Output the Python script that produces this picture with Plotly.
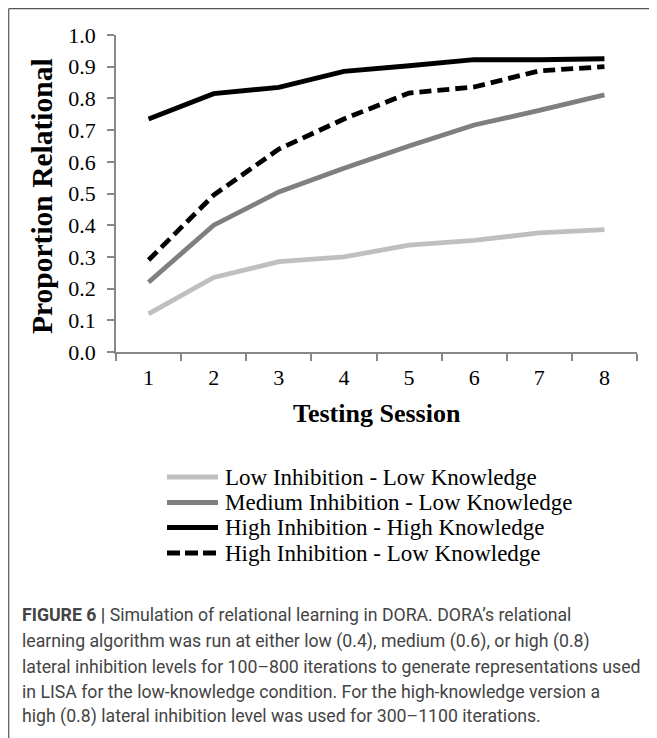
import plotly.graph_objects as go

sessions = ["1", "2", "3", "4", "5", "6", "7", "8"]
low_low = [0.12, 0.235, 0.285, 0.30, 0.337, 0.352, 0.376, 0.386]
med_low = [0.22, 0.40, 0.505, 0.58, 0.65, 0.716, 0.762, 0.811]
high_high = [0.735, 0.815, 0.835, 0.885, 0.903, 0.922, 0.922, 0.925]
high_low = [0.29, 0.495, 0.64, 0.735, 0.817, 0.836, 0.887, 0.90]
series_names = ["Low Inhibition - Low Knowledge", "Medium Inhibition - Low Knowledge",
                "High Inhibition - High Knowledge", "High Inhibition - Low Knowledge"]
y_ticks = [0.0, 0.1, 0.2, 0.3, 0.4, 0.5, 0.6, 0.7, 0.8, 0.9, 1.0]
caption_lines = [
    "<b>FIGURE 6 |</b> Simulation of relational learning in DORA. DORA\u2019s relational",
    "learning algorithm was run at either low (0.4), medium (0.6), or high (0.8)",
    "lateral inhibition levels for 100\u2013800 iterations to generate representations used",
    "in LISA for the low-knowledge condition. For the high-knowledge version a",
    "high (0.8) lateral inhibition level was used for 300\u20131100 iterations.",
]

W, H = 657, 738
OFF = 8  # page body margin offset
L, R, T, B = 116 - OFF, 637 - OFF, 35 - OFF, 352 - OFF
SERIF = "Liberation Serif, Times New Roman, serif"
SANS = "Roboto, Arial, sans-serif"

def px(x):
    return (x - OFF - L) / (R - L)

def py(y):
    return (B - (y - OFF)) / (B - T)

styles = [
    dict(color="#bfbfbf", width=4.8, dash="solid"),
    dict(color="#7f7f7f", width=4.8, dash="solid"),
    dict(color="#000000", width=4.8, dash="solid"),
    dict(color="#000000", width=4.8, dash="12px,6px"),
]
data = [low_low, med_low, high_high, high_low]

fig = go.Figure()
for name, vals, st in zip(series_names, data, styles):
    fig.add_trace(go.Scatter(x=sessions, y=vals, mode="lines", name=name,
                             line=st, showlegend=False))

axis_col = "#888888"
fig.update_layout(
    width=W, height=H,
    margin=dict(l=L, r=W - R, t=T, b=H - B, autoexpand=False),
    paper_bgcolor="white", plot_bgcolor="white",
    xaxis=dict(type="category", range=[-0.5, 7.5], showgrid=False, showline=True,
               linecolor=axis_col, linewidth=1.5, ticks="outside", ticklen=7,
               tickcolor=axis_col, tickwidth=1.5, tickson="boundaries", zeroline=False,
               automargin=False, ticklabelstandoff=5,
               tickfont=dict(family=SERIF, size=22, color="#000")),
    yaxis=dict(range=[0, 1.0], tickvals=y_ticks, tickformat=".1f", showgrid=False,
               showline=True, linecolor=axis_col, linewidth=1.5, ticks="outside",
               ticklen=7, tickcolor=axis_col, tickwidth=1.5, zeroline=False,
               automargin=False, ticklabelstandoff=7,
               tickfont=dict(family=SERIF, size=22, color="#000")),
)

ann = []
ann.append(dict(x=px(42), y=py(196), xref="paper", yref="paper", text="<b>Proportion Relational</b>",
                textangle=-90, showarrow=False, font=dict(family=SERIF, size=29.5, color="#000"),
                xanchor="center", yanchor="middle"))
ann.append(dict(x=px(377), y=py(413), xref="paper", yref="paper", text="<b>Testing Session</b>",
                showarrow=False, font=dict(family=SERIF, size=26, color="#000"),
                xanchor="center", yanchor="middle"))

leg_y = [477, 502.5, 527.5, 553]
shapes = []
for name, st, yy in zip(series_names, styles, leg_y):
    shapes.append(dict(type="line", xref="paper", yref="paper", x0=px(167), x1=px(218),
                       y0=py(yy), y1=py(yy),
                       line=dict(color=st["color"], width=st["width"],
                                 dash="13px,5px" if st["dash"] != "solid" else "solid")))
    ann.append(dict(x=px(223), y=py(yy), xref="paper", yref="paper", text=name, showarrow=False,
                    font=dict(family=SERIF, size=23, color="#000"), xanchor="left", yanchor="middle"))

cap_y = [615, 641, 666.5, 692, 716.5]
for line, yy in zip(caption_lines, cap_y):
    ann.append(dict(x=px(20), y=py(yy), xref="paper", yref="paper", text=line, showarrow=False,
                    font=dict(family=SANS, size=17.7, color="#444444"), xanchor="left", yanchor="middle"))

# frame (top and left edges visible)
shapes.append(dict(type="line", xref="paper", yref="paper", x0=px(8.7), x1=px(660),
                   y0=py(8.7), y1=py(8.7), line=dict(color="#555555", width=1.2)))
shapes.append(dict(type="line", xref="paper", yref="paper", x0=px(8.7), x1=px(8.7),
                   y0=py(8.7), y1=py(745), line=dict(color="#555555", width=1.2)))

fig.update_layout(annotations=ann, shapes=shapes)
fig.write_html("out.html")
